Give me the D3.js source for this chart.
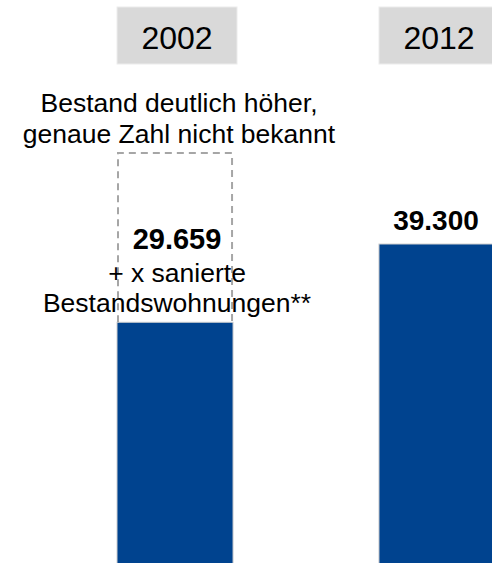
<!DOCTYPE html>
<html>
<head>
<meta charset="utf-8">
<script src="https://cdn.jsdelivr.net/npm/d3@7"></script>
<style>
  html, body { margin: 0; padding: 0; background: #fff; }
  svg { display: block; font-family: "Liberation Sans", Arial, sans-serif; }
</style>
</head>
<body>
<div id="chart"></div>
<script>
// data
const years = ["2002", "2012"];
const values = [29659, 39300];
const valueLabels = ["29.659", "39.300"];
const upperEstimate = [50500, null]; // dashed frame: real stock higher, exact number unknown
const noteAbove = ["Bestand deutlich höher,", "genaue Zahl nicht bekannt"];
const noteBelow = ["+ x sanierte", "Bestandswohnungen**"];

const width = 492;
const height = 563;

const svg = d3.select("#chart").append("svg")
  .attr("width", width)
  .attr("height", height);

const x = d3.scaleBand()
  .domain(years)
  .range([117, 495])
  .paddingInner(0.557)
  .paddingOuter(0);

const y = d3.scaleLinear()
  .domain([0, 39300])
  .range([563, 244]);

const cx = d => x(d) + x.bandwidth() / 2;

// year header boxes
const head = svg.selectAll(".head")
  .data(years)
  .enter()
  .append("g")
  .attr("class", "head");

head.append("rect")
  .attr("x", d => cx(d) - 58)
  .attr("y", 7)
  .attr("width", 120)
  .attr("height", 57)
  .attr("fill", "#d9d9d9")
  .attr("stroke", "#ececec")
  .attr("stroke-width", 1);

head.append("text")
  .attr("x", d => cx(d) + 2)
  .attr("y", 49)
  .attr("text-anchor", "middle")
  .style("font-size", "32px")
  .style("fill", "#000")
  .text(d => d);

// bars
svg.selectAll(".bar")
  .data(years)
  .enter()
  .append("rect")
  .attr("class", "bar")
  .attr("x", d => x(d))
  .attr("y", (d, i) => y(values[i]))
  .attr("width", x.bandwidth())
  .attr("height", (d, i) => y(0) - y(values[i]) + 2)
  .attr("fill", "#00438f")
  .attr("stroke", "#d0d0d0")
  .attr("stroke-width", 1);

// dashed frame for the unknown part
years.forEach((yr, i) => {
  if (upperEstimate[i] == null) return;
  const top = y(upperEstimate[i]);
  const bottom = y(values[i]);
  svg.append("path")
    .attr("d", `M${x(yr) + 1},${bottom} V${top} H${x(yr) + x.bandwidth() - 1} V${bottom}`)
    .attr("fill", "none")
    .attr("stroke", "#a6a6a6")
    .attr("stroke-width", 2)
    .attr("stroke-dasharray", "7,5");

  svg.selectAll(".note-above")
    .data(noteAbove)
    .enter()
    .append("text")
    .attr("x", cx(yr) + 4)
    .attr("y", (d, j) => top - 41 + j * 31)
    .attr("text-anchor", "middle")
    .style("font-size", "26.5px")
    .style("fill", "#000")
    .text(d => d);

  // value + note inside frame
  const bt = y(values[i]);
  svg.append("text")
    .attr("x", cx(yr) + 2)
    .attr("y", bt - 73)
    .attr("text-anchor", "middle")
    .style("font-size", "29px")
    .style("font-weight", "bold")
    .style("fill", "#000")
    .text(valueLabels[i]);

  svg.selectAll(".note-below")
    .data(noteBelow)
    .enter()
    .append("text")
    .attr("x", cx(yr) + 2)
    .attr("y", (d, j) => bt - 40 + j * 30)
    .attr("text-anchor", "middle")
    .style("font-size", "26.5px")
    .style("fill", "#000")
    .text(d => d);
});

// value label for bars without a frame
years.forEach((yr, i) => {
  if (upperEstimate[i] != null) return;
  svg.append("text")
    .attr("x", cx(yr) - 1)
    .attr("y", y(values[i]) - 14)
    .attr("text-anchor", "middle")
    .style("font-size", "28px")
    .style("font-weight", "bold")
    .style("fill", "#000")
    .text(valueLabels[i]);
});
</script>
</body>
</html>
